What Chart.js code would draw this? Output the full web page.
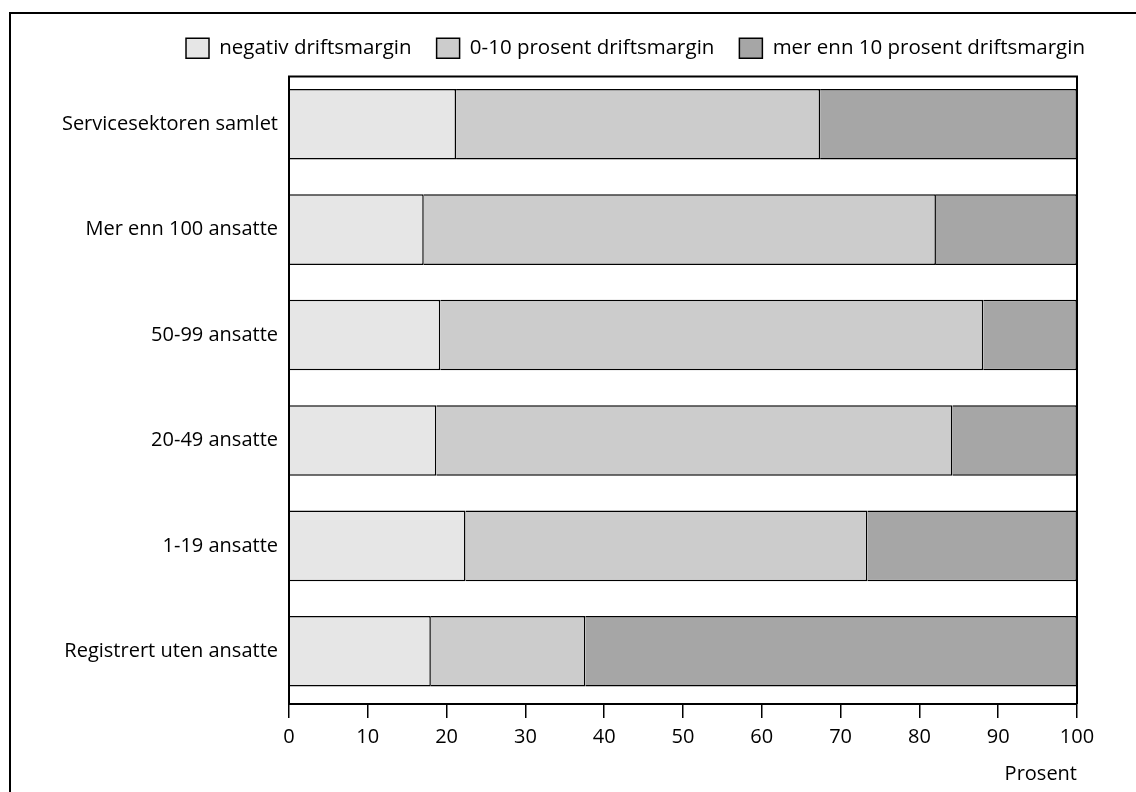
<!DOCTYPE html>
<html><head><meta charset="utf-8">
<script src="https://cdn.jsdelivr.net/npm/chart.js@4"></script>
<style>
html,body{margin:0;padding:0;background:#fff;overflow:hidden;}
#wrap{position:relative;width:1136px;height:792px;}
#frame{position:absolute;left:9px;top:12px;width:1300px;height:900px;border-left:2px solid #000;border-top:2px solid #000;box-sizing:border-box;}
canvas{position:absolute;left:0;top:0;}
</style></head><body>
<div id="wrap"><div id="frame"></div><canvas id="c" width="1136" height="792"></canvas></div>
<script>
const categories = ['Servicesektoren samlet', 'Mer enn 100 ansatte', '50-99 ansatte', '20-49 ansatte', '1-19 ansatte', 'Registrert uten ansatte'];
const seriesNames = ['negativ driftsmargin', '0-10 prosent driftsmargin', 'mer enn 10 prosent driftsmargin'];
const negativ = [21.2, 17.1, 19.2, 18.7, 22.4, 18.0];
const nullTilTi = [46.2, 65.0, 68.9, 65.5, 51.0, 19.6];
const overTi = [32.6, 17.9, 11.9, 15.8, 26.6, 62.4];
const xTicks = [0, 10, 20, 30, 40, 50, 60, 70, 80, 90, 100];
const axisTitle = 'Prosent';

const colors = ['#e6e6e6', '#cccccc', '#a6a6a6'];
const FONT = { family: '"Open Sans", "Noto Sans", sans-serif', size: 20 };
const LEGEND_FONT = { family: '"Open Sans", "Noto Sans", sans-serif', size: 20.5 };
const frameInset = 5;
const legendShiftX = 33;
const legendShiftY = -3;

const framePlugin = {
  id: 'frame',
  afterLayout(chart) {
    const lg = chart.legend;
    if (lg) {
      lg.left += legendShiftX; lg.right += legendShiftX;
      lg.top += legendShiftY; lg.bottom += legendShiftY;
    }
  },
  afterDatasetsDraw(chart) {
    const { ctx, chartArea: a } = chart;
    ctx.save();
    ctx.strokeStyle = '#000';
    ctx.lineWidth = 2;
    ctx.beginPath();
    ctx.moveTo(a.left, a.bottom);
    ctx.lineTo(a.left, a.top + frameInset);
    ctx.lineTo(a.right, a.top + frameInset);
    ctx.lineTo(a.right, a.bottom);
    ctx.stroke();
    ctx.restore();
  }
};

const data = {
  labels: categories,
  datasets: [negativ, nullTilTi, overTi].map((vals, i) => ({
    label: seriesNames[i],
    data: vals,
    backgroundColor: colors[i],
    borderColor: '#000',
    borderWidth: 1.5,
    barPercentage: 0.67,
    categoryPercentage: 1
  }))
};

new Chart(document.getElementById('c'), {
  type: 'bar',
  data,
  plugins: [framePlugin],
  options: {
    indexAxis: 'y',
    responsive: false,
    animation: false,
    layout: { padding: { top: 16, left: 0, right: 59, bottom: 6 } },
    plugins: {
      tooltip: { enabled: false },
      legend: {
        position: 'top',
        align: 'end',
        labels: {
          boxWidth: 23,
          boxHeight: 20,
          padding: 25,
          color: '#000',
          font: LEGEND_FONT
        }
      }
    },
    scales: {
      x: {
        stacked: true,
        min: 0,
        max: 100,
        afterBuildTicks: s => { s.ticks = xTicks.map(v => ({ value: v })); },
        ticks: { color: '#000', font: FONT, padding: 7, maxRotation: 0 },
        grid: { display: true, drawOnChartArea: false, drawTicks: true, tickLength: 14, color: '#000', lineWidth: 1.5 },
        border: { display: true, color: '#000', width: 2 },
        title: { display: true, text: axisTitle, align: 'end', color: '#000', font: FONT, padding: { top: 6, bottom: 0 } }
      },
      y: {
        stacked: true,
        afterFit: s => { s.width = 289; },
        ticks: { color: '#000', font: FONT, padding: 11 },
        grid: { display: false, drawTicks: false },
        border: { display: false }
      }
    }
  }
});
</script>
</body></html>
